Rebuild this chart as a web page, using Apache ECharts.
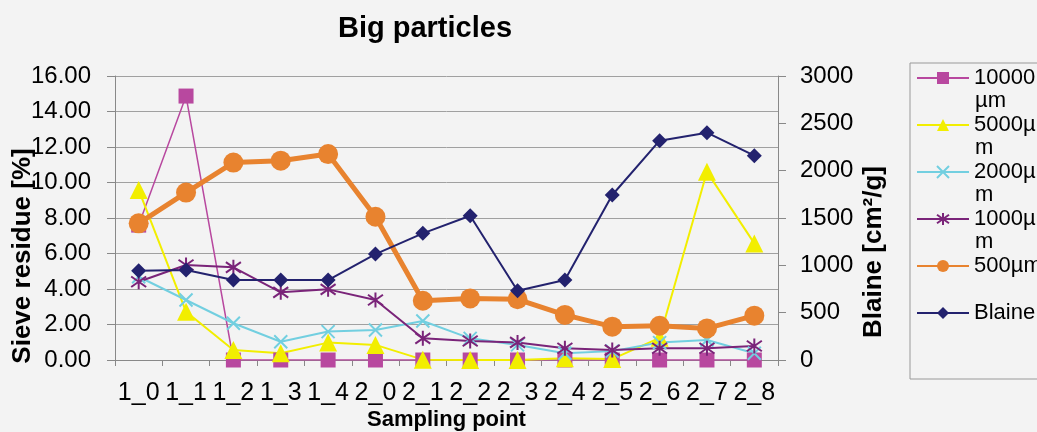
<!DOCTYPE html>
<html>
<head>
<meta charset="utf-8">
<script src="https://cdn.jsdelivr.net/npm/echarts@6/dist/echarts.min.js"></script>
<style>
html,body{margin:0;padding:0;background:#f3f3f3;}
#chart{width:1037px;height:432px;}
</style>
</head>
<body>
<div id="chart"></div>
<script>
const categories = ['1_0','1_1','1_2','1_3','1_4','2_0','2_1','2_2','2_3','2_4','2_5','2_6','2_7','2_8'];
const leftTicks = [0, 16, 2];
const rightTicks = [0, 3000, 500];
const s10000 = [7.6, 14.87, 0, 0, 0, 0, 0, 0, 0, 0, 0, 0, 0, 0];
const s5000 = [9.58, 2.72, 0.56, 0.38, 0.98, 0.85, 0.02, 0, 0, 0.1, 0.05, 1.25, 10.6, 6.57];
const s2000 = [4.69, 3.38, 2.07, 1.03, 1.6, 1.69, 2.2, 1.22, 0.85, 0.38, 0.5, 0.98, 1.13, 0.38];
const s1000 = [4.41, 5.35, 5.22, 3.81, 3.98, 3.38, 1.22, 1.07, 0.99, 0.66, 0.56, 0.66, 0.66, 0.79];
const s500 = [7.7, 9.43, 11.12, 11.23, 11.6, 8.07, 3.34, 3.47, 3.42, 2.54, 1.88, 1.93, 1.78, 2.5];
const blaine = [943, 950, 845, 845, 845, 1119, 1338, 1524, 732, 845, 1743, 2317, 2401, 2158];
const seriesNames = ['10000µm', '5000µm', '2000µm', '1000µm', '500µm', 'Blaine'];
// legend labels wrapped as in the original (first line / second line)
const legendFirst = ['10000', '5000µ', '2000µ', '1000µ', '500µm', 'Blaine'];
const legendSecond = ['µm', 'm', 'm', 'm'];

const FONT = 'Liberation Sans, Arial, sans-serif';
const chart = echarts.init(document.getElementById('chart'));

function line(name, data, color, symbol, size, width, yAxisIndex, stroke) {
  return {
    name: name, type: 'line', data: data, yAxisIndex: yAxisIndex || 0,
    symbol: symbol, symbolSize: size, showSymbol: true,
    lineStyle: {color: color, width: width},
    itemStyle: {color: color, borderColor: color, borderWidth: stroke ? 2 : 0},
    emphasis: {disabled: true},
    animation: false
  };
}

const legendTextStyle = {fontFamily: FONT, fontSize: 22, color: '#000', lineHeight: 24};

chart.setOption({
  backgroundColor: '#f3f3f3',
  title: {
    text: 'Big particles', left: 420, top: 9, textAlign: 'center',
    textStyle: {fontFamily: FONT, fontSize: 29, fontWeight: 'bold', color: '#000'}
  },
  legend: [{
    orient: 'vertical', left: 910, top: 63,
    padding: [3, 20, 54, 6],
    borderColor: '#999', borderWidth: 1, borderRadius: 0,
    itemWidth: 52, itemHeight: 15, itemGap: 23,
    formatter: function (n) { return legendFirst[seriesNames.indexOf(n)]; },
    textStyle: legendTextStyle,
    data: seriesNames
  }, {
    orient: 'vertical', left: 970, top: 89,
    padding: 0,
    icon: 'none',
    itemWidth: 0, itemHeight: 15, itemGap: 23,
    formatter: function (n) { return legendSecond[seriesNames.indexOf(n)]; },
    textStyle: legendTextStyle,
    data: seriesNames.slice(0, 4)
  }],
  grid: {left: 115, right: 259, top: 76, bottom: 72, outerBoundsMode: 'none', containLabel: false},
  xAxis: {
    type: 'category', data: categories, boundaryGap: true,
    name: 'Sampling point', nameLocation: 'middle', nameGap: 49, nameMoveOverlap: false,
    nameTextStyle: {fontFamily: FONT, fontSize: 22, fontWeight: 'bold', color: '#000'},
    axisLine: {lineStyle: {color: '#888', width: 1}},
    axisTick: {show: true, length: 6, interval: 0, lineStyle: {color: '#888'}},
    axisLabel: {interval: 0, fontFamily: FONT, fontSize: 25, color: '#000', margin: 21, hideOverlap: false}
  },
  yAxis: [{
    type: 'value', min: leftTicks[0], max: leftTicks[1], interval: leftTicks[2],
    name: 'Sieve residue [%]', nameLocation: 'middle', nameGap: 79, nameRotate: 90, nameMoveOverlap: false,
    nameTextStyle: {fontFamily: FONT, fontSize: 26, fontWeight: 'bold', color: '#000', padding: [0, 76, 0, 0]},
    axisLine: {show: true, lineStyle: {color: '#888'}},
    axisTick: {show: true, length: 8, lineStyle: {color: '#888'}},
    splitLine: {show: true, lineStyle: {color: '#a0a0a0', width: 1}},
    axisLabel: {fontFamily: FONT, fontSize: 24, color: '#000', margin: 24, formatter: function (v) { return v.toFixed(2); }}
  }, {
    type: 'value', min: rightTicks[0], max: rightTicks[1], interval: rightTicks[2], position: 'right',
    name: 'Blaine [cm²/g]', nameLocation: 'middle', nameGap: 83, nameRotate: 90, nameMoveOverlap: false,
    nameTextStyle: {fontFamily: FONT, fontSize: 26, fontWeight: 'bold', color: '#000', padding: [0, 68, 0, 0]},
    axisLine: {show: true, lineStyle: {color: '#888'}},
    axisTick: {show: true, length: 8, lineStyle: {color: '#888'}},
    splitLine: {show: false},
    axisLabel: {fontFamily: FONT, fontSize: 24, color: '#000', margin: 22, formatter: function (v) { return String(v); }}
  }],
  series: [
    line(seriesNames[0], s10000, '#b8489f', 'rect', 15, 1.5),
    line(seriesNames[1], s5000, '#f2ee00', 'triangle', 18, 2),
    line(seriesNames[2], s2000, '#72cfe0', 'path://M0,0L10,10M10,0L0,10', 13, 2, 0, true),
    line(seriesNames[3], s1000, '#7a2479', 'path://M5,0L5,10M0,1.5L10,8.5M10,1.5L0,8.5', 15, 2, 0, true),
    line(seriesNames[4], s500, '#e8832f', 'circle', 20, 5),
    line(seriesNames[5], blaine, '#23226e', 'diamond', 15, 2, 1)
  ]
});
</script>
</body>
</html>
